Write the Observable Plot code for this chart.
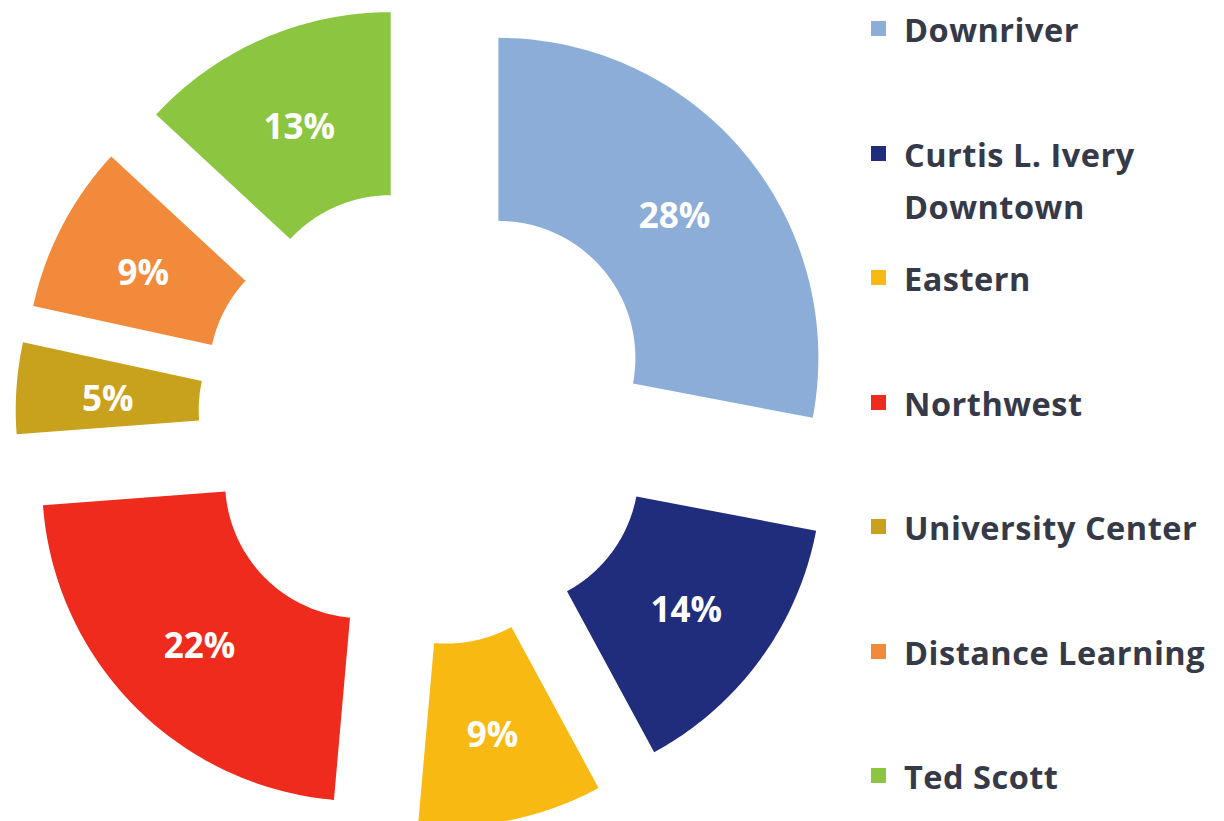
<!DOCTYPE html>
<html>
<head>
<meta charset="utf-8">
<script src="https://cdn.jsdelivr.net/npm/d3@7"></script>
<script src="https://cdn.jsdelivr.net/npm/@observablehq/plot@0.6"></script>
<style>
  html, body { margin: 0; padding: 0; background: #ffffff; }
  #wrap { position: relative; width: 1224px; height: 821px; overflow: hidden; }
  #chart { position: absolute; left: 0; top: 0; }
  #legend { position: absolute; left: 871px; top: 4px; width: 353px;
    font-family: "Open Sans", Lato, sans-serif; font-weight: bold; font-size: 32.5px; letter-spacing: 0.5px; color: #363947; }
  .item { height: 124.5px; display: flex; align-items: flex-start; }
  .sw { width: 15px; height: 15px; margin-top: 17px; margin-right: 18px; flex: none; }
  .lab { line-height: 52px; width: 320px; white-space: normal; }
</style>
</head>
<body>
<div id="wrap"><div id="chart"></div><div id="legend"></div></div>
<script>
// ---- data ----
const names = ["Downriver", "Curtis L. Ivery Downtown", "Eastern", "Northwest", "University Center", "Distance Learning", "Ted Scott"];
const shares = [28.0, 14.1, 9.3, 22.4, 4.6, 8.5, 13.1];
const colors = ["#8dadd9", "#202c7c", "#f8b912", "#ee2b1c", "#c9a21d", "#f18a3b", "#8cc641"];

// ---- layout constants ----
const W = 860, H = 821;
const CX = 427, CY = 416;
const R_OUT = 320, R_IN = 137, EXPLODE = 92;

const rows = names.map((name, i) => ({name, value: shares[i]}));
const arcs = d3.pie().sort(null).value(d => d.value)(rows);

const points = [];
const labels = [];
arcs.forEach(a => {
  const mid = (a.startAngle + a.endAngle) / 2;
  const ox = EXPLODE * Math.sin(mid), oy = -EXPLODE * Math.cos(mid);
  const n = 80;
  for (let i = 0; i <= n; i++) {
    const t = a.startAngle + (a.endAngle - a.startAngle) * i / n;
    points.push({name: a.data.name, x: ox + R_OUT * Math.sin(t), y: oy - R_OUT * Math.cos(t)});
  }
  for (let i = n; i >= 0; i--) {
    const t = a.startAngle + (a.endAngle - a.startAngle) * i / n;
    points.push({name: a.data.name, x: ox + R_IN * Math.sin(t), y: oy - R_IN * Math.cos(t)});
  }
  const rm = (R_OUT + R_IN) / 2 + EXPLODE;
  labels.push({name: a.data.name, x: rm * Math.sin(mid), y: -rm * Math.cos(mid), text: Math.round(a.data.value) + "%"});
});

const chart = Plot.plot({
  width: W, height: H,
  margin: 0,
  x: {domain: [-CX, W - CX], range: [0, W], axis: null},
  y: {domain: [-CY, H - CY], range: [0, H], axis: null},
  color: {domain: names, range: colors},
  style: {background: "white"},
  marks: [
    Plot.line(points, {x: "x", y: "y", z: "name", fill: "name", stroke: "none", curve: "linear-closed"}),
    Plot.text(labels, {x: "x", y: "y", text: "text", fill: "white", fontSize: 35, fontWeight: "bold",
      fontFamily: "'Open Sans', Lato, sans-serif", dy: 5})
  ]
});
document.getElementById("chart").appendChild(chart);

const legend = document.getElementById("legend");
names.forEach((n, i) => {
  const item = document.createElement("div");
  item.className = "item";
  const sw = document.createElement("div");
  sw.className = "sw";
  sw.style.background = colors[i];
  const lab = document.createElement("div");
  lab.className = "lab";
  lab.textContent = n;
  item.appendChild(sw);
  item.appendChild(lab);
  legend.appendChild(item);
});
</script>
</body>
</html>
